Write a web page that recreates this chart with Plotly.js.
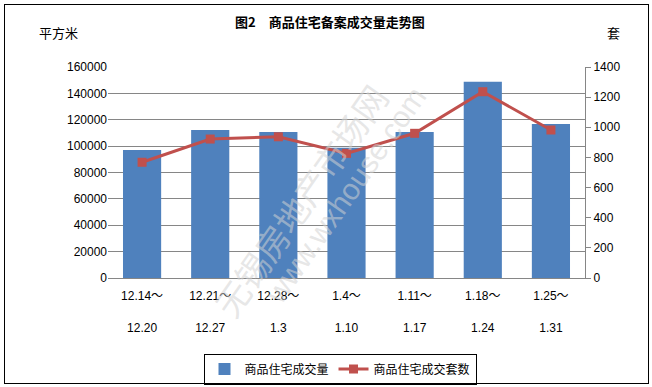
<!DOCTYPE html>
<html><head><meta charset="utf-8">
<script src="https://cdn.plot.ly/plotly-3.0.1.min.js"></script>
<style>body{margin:0;padding:0;background:#fff}#wrap{position:relative;width:652px;height:387px}#frame{position:absolute;left:4px;top:4px;width:643px;height:378px;border:1px solid #000;pointer-events:none}</style>
</head><body>
<div id="wrap"><div id="chart" style="width:652px;height:387px"></div><div id="frame"></div></div>
<script>
const categories = ["12.14～<br><br>12.20","12.21～<br><br>12.27","12.28～<br><br>1.3","1.4～<br><br>1.10","1.11～<br><br>1.17","1.18～<br><br>1.24","1.25～<br><br>1.31"];
const areaValues = [97000, 112200, 110700, 98800, 110700, 148800, 116800];
const unitValues = [768, 922, 937, 827, 960, 1236, 982];
const seriesNames = ["商品住宅成交量", "商品住宅成交套数"];

const font = "Liberation Sans, Noto Sans CJK SC, sans-serif";
const data = [
  {type:'bar', x:categories, y:areaValues, name:seriesNames[0], marker:{color:'#4F81BD'}, yaxis:'y'},
  {type:'scatter', mode:'lines+markers', x:categories, y:unitValues, name:seriesNames[1], yaxis:'y2',
   line:{color:'#C0504D', width:3}, marker:{symbol:'square', size:9, color:'#C0504D'}}
];
const layout = {
  width:652, height:387,
  margin:{l:108, r:67, t:67, b:109},
  paper_bgcolor:'#fff', plot_bgcolor:'#fff',
  font:{family:font, size:12, color:'#000'},
  bargap:0.44,
  showlegend:true,
  legend:{orientation:'h', x:(340)/652, xref:'container', xanchor:'center', yref:'container', y:(387-369)/387, yanchor:'middle',
    bordercolor:'#000', borderwidth:1, font:{family:"Noto Sans CJK SC, sans-serif", size:12}, itemwidth:30, tracegroupgap:0},
  xaxis:{type:'category', automargin:false, showline:true, linecolor:'#868686', ticks:'', showgrid:false, ticklabelstandoff:7,
    tickfont:{family:"Liberation Sans, Noto Sans CJK SC, sans-serif", size:12}, tickangle:0},
  yaxis:{range:[0,160000], dtick:20000, tickformat:'d', automargin:false, showgrid:true, gridcolor:'#868686', gridwidth:1, showline:false, zeroline:false,
    ticks:'', tickfont:{size:12}, ticklen:0},
  yaxis2:{range:[0,1400], dtick:200, tickformat:'d', automargin:false, overlaying:'y', side:'right', showgrid:false, showline:true, linecolor:'#868686',
    ticks:'outside', ticklen:5, tickcolor:'#868686', zeroline:false, tickfont:{size:12}},
  annotations:[
    {text:'<b>图2　商品住宅备案成交量走势图</b>', xref:'paper', yref:'paper', x:(330-108)/477, y:(278-22)/211, xanchor:'center', yanchor:'middle', showarrow:false, font:{family:"Noto Sans CJK SC, sans-serif", size:13}},
    {text:'平方米', xref:'paper', yref:'paper', x:(58-108)/477, y:(278-33)/211, xanchor:'center', yanchor:'middle', showarrow:false, font:{family:"Noto Sans CJK SC, sans-serif", size:13}},
    {text:'套', xref:'paper', yref:'paper', x:(613-108)/477, y:(278-33)/211, xanchor:'center', yanchor:'middle', showarrow:false, font:{family:"Noto Sans CJK SC, sans-serif", size:13}},
    {text:'无锡房地产市场网', xref:'paper', yref:'paper', x:(300-108)/477, y:(278-200)/211, xanchor:'center', yanchor:'middle', showarrow:false, textangle:-55, font:{family:"Noto Sans CJK SC, sans-serif", size:34, color:'rgba(210,210,210,0.55)'}},
    {text:'www.wxhouse.com', xref:'paper', yref:'paper', x:(345-108)/477, y:(278-195)/211, xanchor:'center', yanchor:'middle', showarrow:false, textangle:-55, font:{family:"Liberation Sans, sans-serif", size:30, color:'rgba(210,210,210,0.55)'}}
  ]
};
Plotly.newPlot('chart', data, layout, {displayModeBar:false, staticPlot:true});
</script>
</body></html>
